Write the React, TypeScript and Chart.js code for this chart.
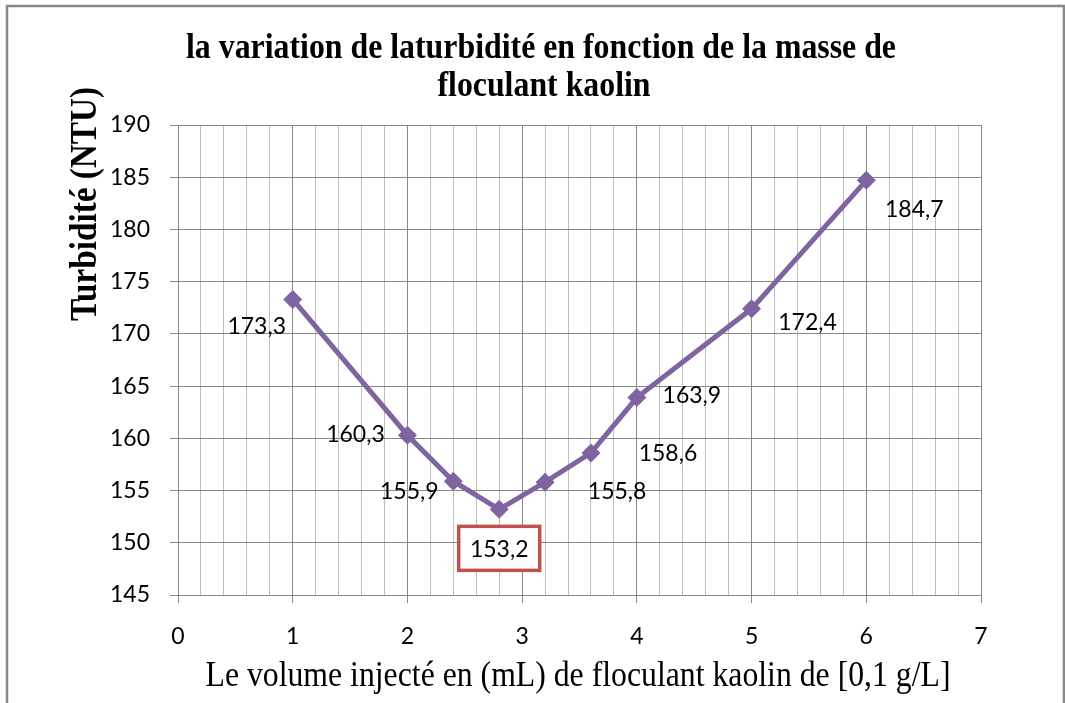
import React, { useEffect, useRef } from "react";
import { Chart, registerables } from "chart.js";

Chart.register(...registerables);

// ---- data ----
const volumes = [1, 2, 2.4, 2.8, 3.2, 3.6, 4, 5, 6];
const turbidity = [173.3, 160.3, 155.9, 153.2, 155.8, 158.6, 163.9, 172.4, 184.7];
const highlightIndex = 3;

const titleLines = [
  "la variation de laturbidité en fonction de la masse de",
  "floculant kaolin",
];
const yAxisTitle = "Turbidité (NTU)";
const xAxisTitle = "Le volume injecté en (mL) de floculant kaolin de [0,1 g/L]";

const xMin = 0;
const xMax = 7;
const xStep = 0.2;
const yMin = 145;
const yMax = 190;
const yStep = 5;

// ---- layout / style ----
const labelOffsets: [number, number][] = [
  [-36, 26],
  [-52, -2],
  [-44, 9],
  [0, 39],
  [72, 8],
  [77, 0],
  [55, -3],
  [56, 13],
  [48, 28],
];

const LINE_COLOR = "#8064A2";
const MAJOR_GRID = "#888888";
const MINOR_GRID = "#BDBDBD";
const TICK_FONT = { family: "Lato", size: 23 };

const isInt = (v: number) => Math.abs(v - Math.round(v)) < 1e-6;
const fmt = (v: number) => v.toFixed(1).replace(".", ",");

function drawCondensed(
  ctx: CanvasRenderingContext2D,
  text: string,
  x: number,
  y: number,
  font: string,
  scale: number,
  rotate: boolean
) {
  ctx.save();
  ctx.font = font;
  ctx.fillStyle = "#000";
  ctx.textAlign = "center";
  ctx.textBaseline = "alphabetic";
  ctx.translate(x, y);
  if (rotate) ctx.rotate(-Math.PI / 2);
  ctx.scale(scale, 1);
  ctx.fillText(text, 0, 0);
  ctx.restore();
}

const decorPlugin = {
  id: "decor",
  beforeDraw(chart: any) {
    const ctx = chart.ctx as CanvasRenderingContext2D;
    ctx.save();
    ctx.fillStyle = "#fff";
    ctx.fillRect(0, 0, chart.width, chart.height);
    ctx.strokeStyle = "#888";
    ctx.lineWidth = 2.5;
    ctx.strokeRect(7, 6, 1057, 760);
    ctx.restore();
  },
  afterDatasetsDraw(chart: any) {
    const ctx = chart.ctx as CanvasRenderingContext2D;
    const meta = chart.getDatasetMeta(0);
    ctx.save();
    ctx.font = "23px Lato";
    ctx.textAlign = "center";
    ctx.textBaseline = "middle";
    meta.data.forEach((pt: any, i: number) => {
      const [dx, dy] = labelOffsets[i];
      const cx = pt.x + dx;
      const cy = pt.y + dy;
      const text = fmt(turbidity[i]);
      if (i === highlightIndex) {
        const w = 81;
        const h = 44;
        ctx.fillStyle = "#fff";
        ctx.fillRect(cx - w / 2, cy - h / 2, w, h);
        ctx.strokeStyle = "#C0504D";
        ctx.lineWidth = 3.5;
        ctx.strokeRect(cx - w / 2, cy - h / 2, w, h);
      }
      ctx.fillStyle = "#000";
      ctx.fillText(text, cx, cy + 1);
    });
    ctx.restore();
  },
  afterDraw(chart: any) {
    const ctx = chart.ctx as CanvasRenderingContext2D;
    const tFont = "bold 36px 'Liberation Serif'";
    ctx.save();
    ctx.font = tFont;
    const tScale = 710 / ctx.measureText(titleLines[0]).width;
    ctx.restore();
    drawCondensed(ctx, titleLines[0], 541, 58, tFont, tScale, false);
    drawCondensed(ctx, titleLines[1], 544, 96, tFont, tScale, false);
    const yFont = "bold 38px 'Liberation Serif'";
    ctx.save();
    ctx.font = yFont;
    const yScale = 234 / ctx.measureText(yAxisTitle).width;
    ctx.restore();
    drawCondensed(ctx, yAxisTitle, 96, 204, yFont, yScale, true);
    const xFont = "35px 'Liberation Serif'";
    ctx.save();
    ctx.font = xFont;
    const xScale = 745 / ctx.measureText(xAxisTitle).width;
    ctx.restore();
    drawCondensed(ctx, xAxisTitle, 578, 686, xFont, xScale, false);
  },
};

export default function App() {
  const ref = useRef<HTMLCanvasElement | null>(null);

  useEffect(() => {
    if (!ref.current) return;
    const chart = new Chart(ref.current, {
      type: "line",
      data: {
        datasets: [
          {
            data: volumes.map((x, i) => ({ x, y: turbidity[i] })),
            borderColor: LINE_COLOR,
            backgroundColor: LINE_COLOR,
            borderWidth: 5,
            pointStyle: "rectRot",
            pointRadius: 9.5,
            pointHoverRadius: 9.5,
            pointBorderWidth: 0,
            pointBackgroundColor: LINE_COLOR,
            tension: 0,
          },
        ],
      },
      options: {
        animation: false,
        responsive: false,
        devicePixelRatio: 1,
        layout: { padding: { left: 0, top: 125, right: 84, bottom: 0 } },
        plugins: {
          legend: { display: false },
          title: { display: false },
          tooltip: { enabled: false },
        },
        events: [],
        scales: {
          x: {
            type: "linear",
            min: xMin,
            max: xMax,
            ticks: {
              stepSize: xStep,
              autoSkip: false,
              maxRotation: 0,
              padding: 20,
              color: "#000",
              font: TICK_FONT,
              callback: (v: any) => (isInt(Number(v)) ? String(Math.round(Number(v))) : ""),
            },
            grid: {
              color: (c: any) => (isInt(c.tick.value) ? MAJOR_GRID : MINOR_GRID),
              tickColor: (c: any) => (isInt(c.tick.value) ? MAJOR_GRID : "rgba(0,0,0,0)"),
              tickLength: 8,
              lineWidth: 1,
            },
            border: { color: MAJOR_GRID, width: 1 },
            afterFit: (s: any) => {
              s.height = 108;
            },
          },
          y: {
            type: "linear",
            min: yMin,
            max: yMax,
            ticks: {
              stepSize: yStep,
              padding: 20,
              color: "#000",
              font: TICK_FONT,
            },
            grid: {
              color: MAJOR_GRID,
              tickColor: MAJOR_GRID,
              tickLength: 8,
              lineWidth: 1,
            },
            border: { color: MAJOR_GRID, width: 1 },
            afterFit: (s: any) => {
              s.width = 178;
            },
          },
        },
      },
      plugins: [decorPlugin],
    } as any);
    return () => chart.destroy();
  }, []);

  return (
    <canvas
      ref={ref}
      width={1065}
      height={703}
      style={{ position: "fixed", left: 0, top: 0, width: 1065, height: 703 }}
    />
  );
}
